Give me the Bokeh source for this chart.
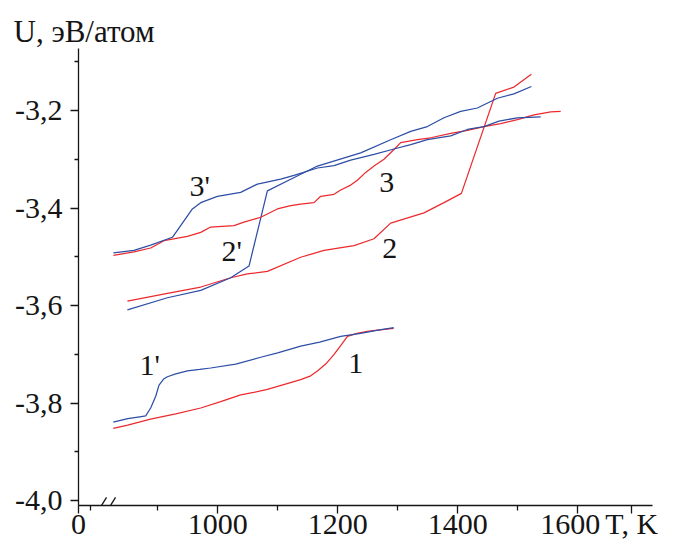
from bokeh.plotting import figure
from bokeh.models import Range1d, FixedTicker, CustomJSTickFormatter, Label
from bokeh.embed import file_html
from bokeh.resources import INLINE

RED = "#ec2a2e"
BLUE = "#2e4ea6"
FONT = "Liberation Serif"
INK = "#151515"

# ---- data (T in K, U in eV/atom) ----
t1 = [826, 850, 888, 930, 971.7, 1005, 1038.3, 1060, 1082.8, 1110, 1138.3, 1155, 1166.2, 1180, 1193.3, 1205, 1216.2, 1232, 1249.5, 1270, 1293.3]
u1 = [-3.852, -3.845, -3.833, -3.822, -3.810, -3.797, -3.783, -3.778, -3.772, -3.762, -3.752, -3.744, -3.734, -3.720, -3.701, -3.682, -3.663, -3.657, -3.653, -3.650, -3.647]

t1p = [826, 850, 870, 880, 888.3, 896.7, 902.2, 910.5, 916.2, 930, 949.5, 970, 988.3, 1030, 1071.7, 1100, 1138.3, 1170, 1205, 1238.3, 1265, 1293.3]
u1p = [-3.839, -3.832, -3.828, -3.826, -3.810, -3.786, -3.763, -3.750, -3.746, -3.740, -3.734, -3.731, -3.728, -3.720, -3.706, -3.697, -3.683, -3.675, -3.663, -3.657, -3.651, -3.645]

t2 = [849.5, 916.2, 971.7, 1021.7, 1049.5, 1082.8, 1138.3, 1177.2, 1227.2, 1260.5, 1288.3, 1343.8, 1377.2, 1406.2, 1463.3, 1493.8, 1522.8]
u2 = [-3.591, -3.575, -3.562, -3.543, -3.535, -3.530, -3.501, -3.487, -3.477, -3.463, -3.431, -3.410, -3.389, -3.370, -3.165, -3.152, -3.126]

t2p = [849.5, 916.2, 971.7, 1021.7, 1052.2, 1082.8, 1121.7, 1166.2, 1238.3, 1288.3, 1321.7, 1349.5, 1377.2, 1405, 1432.8, 1466.2, 1493.8, 1522.8]
u2p = [-3.609, -3.584, -3.569, -3.543, -3.519, -3.365, -3.341, -3.314, -3.287, -3.260, -3.243, -3.233, -3.215, -3.202, -3.195, -3.175, -3.166, -3.151]

t3 = [826.2, 860.5, 888.3, 910.5, 949.5, 971.7, 988.3, 1027.2, 1043.8, 1071.7, 1099.5, 1121.7, 1138.3, 1160.5, 1171.7, 1193.8, 1205, 1221.7, 1232.8, 1246.7, 1260.5, 1277.2, 1293.8, 1305, 1332.8, 1355, 1388.3, 1416.2, 1443.8, 1471.7, 1499.5, 1527.2, 1555, 1571.7]
u3 = [-3.497, -3.490, -3.482, -3.467, -3.458, -3.450, -3.439, -3.436, -3.429, -3.419, -3.402, -3.395, -3.392, -3.389, -3.376, -3.372, -3.363, -3.353, -3.343, -3.327, -3.314, -3.300, -3.280, -3.266, -3.260, -3.256, -3.247, -3.241, -3.233, -3.227, -3.219, -3.209, -3.203, -3.202]

t3p = [826.2, 860.5, 888.3, 924.5, 938.3, 957.8, 971.7, 999.5, 1038.3, 1066.2, 1105, 1127.2, 1166.2, 1193.8, 1221.7, 1260.5, 1293.8, 1321.7, 1349.5, 1388.3, 1416.2, 1443.8, 1468.8, 1499.5, 1538.3]
u3p = [-3.492, -3.487, -3.476, -3.460, -3.436, -3.402, -3.389, -3.376, -3.368, -3.351, -3.341, -3.333, -3.318, -3.313, -3.302, -3.290, -3.279, -3.270, -3.260, -3.252, -3.239, -3.233, -3.222, -3.215, -3.213]

curve_names = ["1", "1'", "2", "2'", "3", "3'"]
label_t = [1230, 886.7, 1286.7, 1023.3, 1281.7, 970]
label_u = [-3.718, -3.720, -3.482, -3.488, -3.347, -3.353]

x_major = [768, 1000, 1200, 1400, 1600, 1690]
x_minor = [788, 900, 1100, 1300, 1500]
x_names = {768: "0", 1600: "1600\u2002", 1690: "T, K"}
y_major = [-4.0, -3.8, -3.6, -3.4, -3.2]
y_minor = [-3.9, -3.7, -3.5, -3.3, -3.1]

# axis break marks ("//") just right of the origin
break_t0 = [798, 813]
break_t1 = [814.7, 829.7]

X0, X1 = 768, 1724.7
Y0, Y1 = -4.0099, -3.073

p = figure(width=658, height=542, output_backend="svg", toolbar_location=None,
           x_range=Range1d(X0, X1), y_range=Range1d(Y0, Y1),
           min_border_left=78, min_border_right=6, min_border_top=48, min_border_bottom=34,
           title="U, эВ/атом")
p.xgrid.visible = False
p.ygrid.visible = False
p.outline_line_color = None
p.background_fill_color = "white"
p.border_fill_color = "white"

p.title.align = "left"
p.title.offset = -65
p.title.standoff = 0
p.title.vertical_align = "bottom"
p.title.text_font = FONT
p.title.text_font_size = "31px"
p.title.text_font_style = "normal"
p.title.text_color = INK

for t, u, c in [(t1, u1, RED), (t1p, u1p, BLUE), (t2, u2, RED), (t2p, u2p, BLUE), (t3, u3, RED), (t3p, u3p, BLUE)]:
    p.line(t, u, line_color=c, line_width=1.25)

for name, tx, uy in zip(curve_names, label_t, label_u):
    p.add_layout(Label(x=tx, y=uy, text=name, text_font=FONT, text_font_size="30px",
                       text_align="center", text_baseline="middle", text_color=INK))

dy = 0.0165
p.segment(x0=break_t0, y0=[Y0 - dy] * 2, x1=break_t1, y1=[Y0 + dy] * 2, line_color=INK, line_width=1.3)

for ax in (p.xaxis[0], p.yaxis[0]):
    ax.axis_line_width = 1.3
    ax.axis_line_color = INK
    ax.major_tick_line_width = 1.3
    ax.minor_tick_line_width = 1.3
    ax.major_tick_line_color = INK
    ax.minor_tick_line_color = INK
    ax.major_tick_in = 0
    ax.minor_tick_in = 0
    ax.major_tick_out = 8
    ax.major_label_text_font = FONT
    ax.major_label_text_font_size = "30px"
    ax.major_label_text_color = INK

p.xaxis.ticker = FixedTicker(ticks=x_major, minor_ticks=x_minor)
p.xaxis.minor_tick_out = 5
p.xaxis.major_label_standoff = -7
p.xaxis.major_label_overrides = x_names
p.xaxis.formatter = CustomJSTickFormatter(code="return tick.toFixed(0);")

p.yaxis.ticker = FixedTicker(ticks=y_major, minor_ticks=y_minor)
p.yaxis.minor_tick_out = 4
p.yaxis.major_label_standoff = 8
p.yaxis.formatter = CustomJSTickFormatter(code="return tick.toFixed(1).replace('.', ',');")

open("out.html", "w").write(file_html(p, INLINE))
